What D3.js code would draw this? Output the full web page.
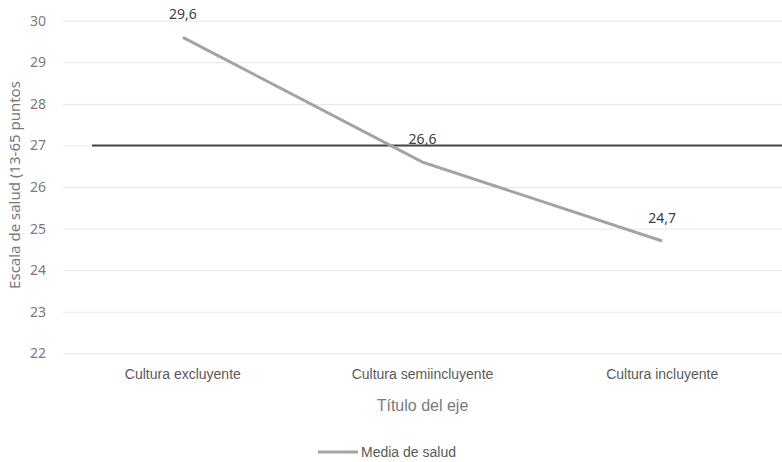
<!DOCTYPE html>
<html>
<head>
<meta charset="utf-8">
<script src="https://cdn.jsdelivr.net/npm/d3@7"></script>
<style>
  body { margin: 0; background: #fff; }
  svg { display: block; }
</style>
</head>
<body>
<div id="chart"></div>
<script>
// data
const categories = ["Cultura excluyente", "Cultura semiincluyente", "Cultura incluyente"];
const saludValues = [29.6, 26.6, 24.7];
const labels = ["29,6", "26,6", "24,7"];
const yTicks = [22, 23, 24, 25, 26, 27, 28, 29, 30];
const referenceValue = 27;

const W = 782, H = 462;
const margin = { top: 20.7, right: 0, bottom: 108.7, left: 63 };
const width = W - margin.left - margin.right;
const height = H - margin.top - margin.bottom;

const svg = d3.select("#chart").append("svg")
  .attr("width", W)
  .attr("height", H)
  .style("font-family", "'Liberation Sans Narrow', 'Liberation Sans', sans-serif");

const g = svg.append("g").attr("transform", `translate(${margin.left},${margin.top})`);

const x = d3.scaleBand().domain(categories).range([0, width]);
const y = d3.scaleLinear().domain([22, 30]).range([height, 0]);

// gridlines + y labels
const yAxis = g.append("g")
  .call(d3.axisLeft(y).tickValues(yTicks).tickSize(-width).tickPadding(17).tickFormat(d3.format("d")));
yAxis.select(".domain").remove();
yAxis.selectAll(".tick line").attr("stroke", "#e6e6e6").attr("stroke-width", 1);
yAxis.selectAll(".tick text")
  .attr("fill", "#7a7a7a")
  .style("font-family", "'Noto Sans', sans-serif")
  .style("font-size", "14px");

// category labels
const xAxis = g.append("g")
  .attr("transform", `translate(0,${height})`)
  .call(d3.axisBottom(x).tickSize(0).tickPadding(16));
xAxis.select(".domain").remove();
xAxis.selectAll(".tick text")
  .attr("fill", "#5a5a5a")
  .style("font-size", "14px");

// reference line
g.append("line")
  .attr("x1", 29)
  .attr("x2", width)
  .attr("y1", y(referenceValue))
  .attr("y2", y(referenceValue))
  .attr("stroke", "#444")
  .attr("stroke-width", 2);

// series line
const pts = categories.map((c, i) => ({ c, v: saludValues[i], l: labels[i] }));
const line = d3.line()
  .x(d => x(d.c) + x.bandwidth() / 2)
  .y(d => y(d.v));

g.append("path")
  .datum(pts)
  .attr("fill", "none")
  .attr("stroke", "#a3a3a3")
  .attr("stroke-width", 3)
  .attr("d", line);

g.selectAll(".dlabel")
  .data(pts)
  .join("text")
  .attr("class", "dlabel")
  .attr("x", d => x(d.c) + x.bandwidth() / 2)
  .attr("y", d => y(d.v) - 18)
  .attr("text-anchor", "middle")
  .attr("fill", "#404040")
  .style("font-family", "'Noto Sans', sans-serif")
  .style("font-size", "14px")
  .text(d => d.l);

// y axis title
svg.append("text")
  .attr("transform", `translate(20,185) rotate(-90)`)
  .attr("text-anchor", "middle")
  .attr("fill", "#7a7a7a")
  .style("font-family", "'Noto Sans', sans-serif")
  .style("font-size", "15px")
  .text("Escala de salud (13-65 puntos");

// x axis title
svg.append("text")
  .attr("x", margin.left + width / 2)
  .attr("y", 411)
  .attr("text-anchor", "middle")
  .attr("fill", "#7a7a7a")
  .style("font-size", "16px")
  .text("Título del eje");

// legend
const legend = svg.append("g").attr("transform", "translate(318,452)");
legend.append("line")
  .attr("x1", 0).attr("x2", 40)
  .attr("y1", 0).attr("y2", 0)
  .attr("stroke", "#a3a3a3")
  .attr("stroke-width", 3);
legend.append("text")
  .attr("x", 43)
  .attr("y", 5)
  .attr("fill", "#5a5a5a")
  .style("font-size", "14px")
  .text("Media de salud");
</script>
</body>
</html>
